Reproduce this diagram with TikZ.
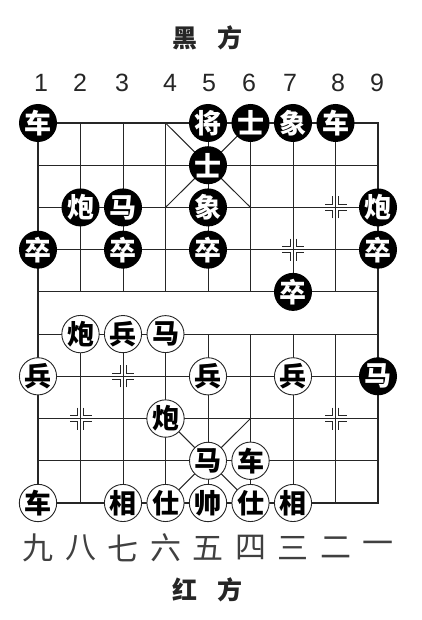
\documentclass[tikz,border=0pt]{standalone}
\usepackage{fontspec}
\setmainfont{Liberation Sans}
\newfontfamily\cjk{Noto Sans CJK SC}
\definecolor{ink}{HTML}{262626}
\begin{document}
\begin{tikzpicture}[x=1pt,y=1pt,
  thin line/.style={draw=ink,line width=1pt},
  border/.style={draw=ink,line width=2.4pt},
  topline/.style={draw=ink,line width=1.5pt},
  blk/.style={circle,fill=black,text=white,minimum size=38pt,inner sep=0pt,
    font=\cjk\bfseries\fontsize{27}{27}\selectfont},
  red/.style={circle,draw=ink,line width=0.9pt,fill=white,text=black,minimum size=37pt,inner sep=0pt,
    font=\cjk\bfseries\fontsize{27}{27}\selectfont},
  side/.style={font=\cjk\bfseries\fontsize{25}{25}\selectfont,text=ink},
  num/.style={font=\fontsize{25}{25}\selectfont,text=ink},
  cnum/.style={font=\cjk\fontsize{31}{31}\selectfont,text=black!75}
]
\useasboundingbox (0,-620) rectangle (421,0);
\foreach \c in {1,...,9}
  \foreach \r in {0,...,9}
    \coordinate (g\c-\r) at ({38+42.5*(\c-1)},{-123-42.22*\r});

% grid
\foreach \r in {1,...,8} \draw[thin line] (g1-\r) -- (g9-\r);
\draw[topline] (g1-0) -- (g9-0);
\foreach \c in {2,...,8} {
  \draw[thin line] (g\c-0) -- (g\c-4);
  \draw[thin line] (g\c-5) -- (g\c-9);
}
\draw[border,line cap=rect] (g1-0) -- (g1-9) -- (g9-9) -- (g9-0);
% palaces
\draw[thin line] (g4-0) -- (g6-2) (g6-0) -- (g4-2);
\draw[thin line] (g4-7) -- (g6-9) (g6-7) -- (g4-9);
% position marks
\foreach \p in {g8-2,g7-3,g3-6,g2-7,g8-7}
  \foreach \sx/\sy in {1/1,1/-1,-1/1,-1/-1}
    \draw[thin line] ([shift={(\sx*3,\sy*11)}]\p) -- ([shift={(\sx*3,\sy*3)}]\p) -- ([shift={(\sx*11,\sy*3)}]\p);

% black pieces
\node[blk] (bc1) at (g1-0) {车};
\node[blk] (bk)  at (g5-0) {将};
\node[blk] (ba1) at (g6-0) {士};
\node[blk] (be1) at (g7-0) {象};
\node[blk] (bc2) at (g8-0) {车};
\node[blk] (ba2) at (g5-1) {士};
\node[blk] (bp1) at (g2-2) {炮};
\node[blk] (bh1) at (g3-2) {马};
\node[blk] (be2) at (g5-2) {象};
\node[blk] (bp2) at (g9-2) {炮};
\node[blk] (bs1) at (g1-3) {卒};
\node[blk] (bs2) at (g3-3) {卒};
\node[blk] (bs3) at (g5-3) {卒};
\node[blk] (bs4) at (g9-3) {卒};
\node[blk] (bs5) at (g7-4) {卒};
\node[blk] (bh2) at (g9-6) {马};

% red pieces
\node[red] (rp1) at (g2-5) {炮};
\node[red] (rs1) at (g3-5) {兵};
\node[red] (rh1) at (g4-5) {马};
\node[red] (rs2) at (g1-6) {兵};
\node[red] (rs3) at (g5-6) {兵};
\node[red] (rs4) at (g7-6) {兵};
\node[red] (rp2) at (g4-7) {炮};
\node[red] (rh2) at (g5-8) {马};
\node[red] (rc1) at (g6-8) {车};
\node[red] (rc2) at (g1-9) {车};
\node[red] (re1) at (g3-9) {相};
\node[red] (ra1) at (g4-9) {仕};
\node[red] (rk)  at (g5-9) {帅};
\node[red] (ra2) at (g6-9) {仕};
\node[red] (re2) at (g7-9) {相};

% labels
\node[side] (top) at (207,-38) {黑\hspace{20pt}方};
\node[side] (bot) at (207,-590) {红\hspace{20pt}方};
\foreach \c/\x in {1/41,2/80,3/122,4/170,5/209,6/249,7/290,8/338,9/377}
  \node[num] (n\c) at (\x,-83) {\c};
\foreach \c/\t in {1/九,2/八,3/七,4/六,5/五,6/四,7/三,8/二,9/一}
  \node[cnum] (m\c) at ({38+42.5*(\c-1)},-548) {\t};
\end{tikzpicture}
\end{document}
